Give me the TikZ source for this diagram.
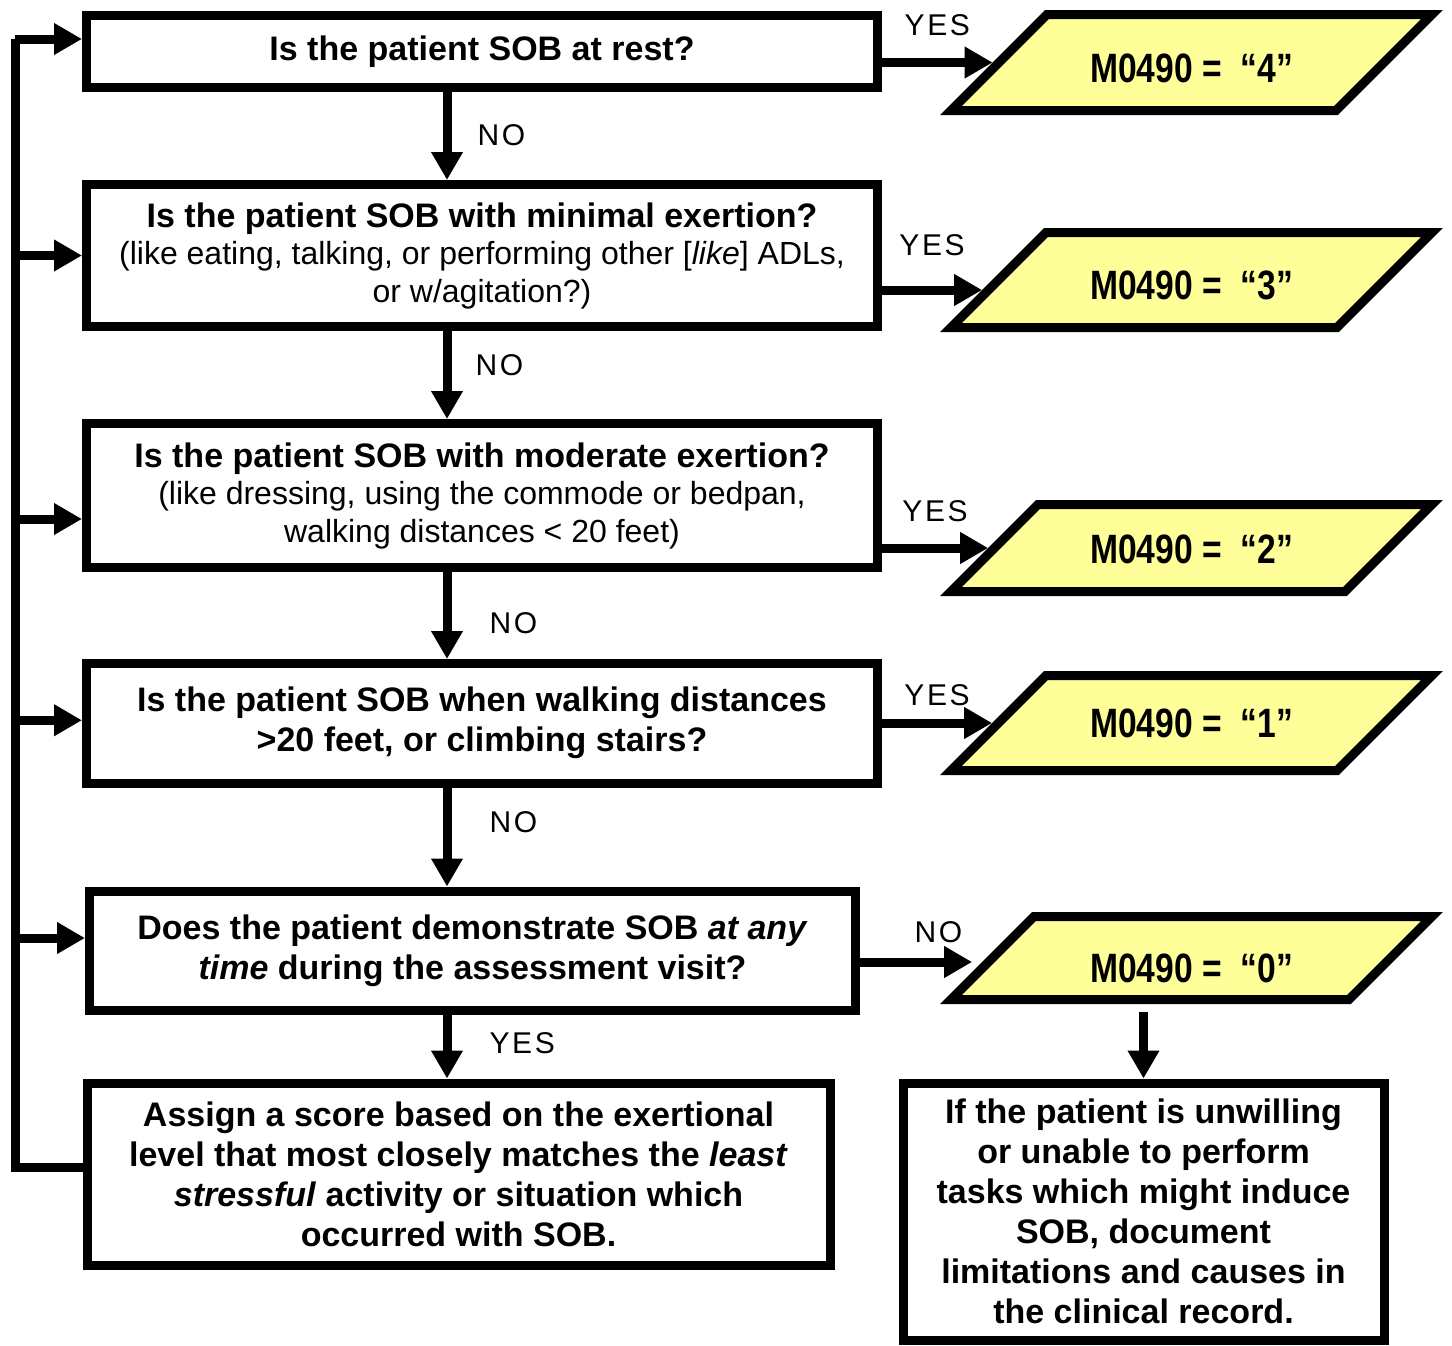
\documentclass[tikz,border=0pt]{standalone}
\usepackage{fontspec}
\setmainfont{Liberation Sans}
\newfontfamily\ansfont[FakeStretch=0.82]{Liberation Sans Bold}
\newfontfamily\lblfont[LetterSpace=9]{Liberation Sans}
\usetikzlibrary{arrows.meta,positioning,shapes.geometric}
\definecolor{answer}{HTML}{FFFF99}
% score text with a strut fixing the node height
\newcommand{\score}[3]{\rule[-#1pt]{0pt}{#2pt}M0490 =~~“#3”}

\begin{document}
\begin{tikzpicture}[x=0.5pt,y=-0.5pt,
  qbox/.style={draw,line width=4.5pt,align=center,inner sep=0pt,font=\fontsize{17}{20}\selectfont\bfseries},
  qmix/.style={qbox,font=\fontsize{16}{18.75}\selectfont},
  ans/.style={trapezium,trapezium left angle=45,trapezium right angle=135,trapezium stretches body,
    inner ysep=0pt,draw,line width=4.5pt,fill=answer,minimum width=240.5pt,font=\ansfont\fontsize{20.5}{24}\selectfont},
  arr/.style={line width=4.5pt,-{Triangle[length=14pt,width=15pt]}},
  wire/.style={line width=4.5pt},
  lbl/.style={inner sep=0pt,font=\lblfont\fontsize{15}{17}\selectfont}]
\useasboundingbox (0,0) rectangle (1452,1345);
% questions
\node[qbox,minimum width=395.5pt,minimum height=36pt] (b1) at (482,51.5) {Is the patient SOB at rest?};
\node[qmix,minimum width=395.5pt,minimum height=71pt] (b2) at (482,255.5)
  {{\fontsize{17}{18.75}\selectfont\bfseries Is the patient SOB with minimal exertion?}\\(like eating, talking, or performing other [\textit{like}] ADLs,\\or w/agitation?)};
\node[qmix,minimum width=395.5pt,minimum height=72pt] (b3) at (482,495.5)
  {{\fontsize{17}{18.75}\selectfont\bfseries Is the patient SOB with moderate exertion?}\\(like dressing, using the commode or bedpan,\\walking distances < 20 feet)};
\node[qbox,minimum width=395.5pt,minimum height=59.75pt] (b4) at (482,723.25) {Is the patient SOB when walking distances\\>20 feet, or climbing stairs?};
\node[qbox,minimum width=383pt,minimum height=59.5pt] (b5) at (472.5,950.5) {Does the patient demonstrate SOB \textit{at any}\\\textit{time} during the assessment visit?};
\node[qbox,minimum width=371.5pt,minimum height=91pt] (b6) at (458.5,1174) {Assign a score based on the exertional\\level that most closely matches the \textit{least}\\\textit{stressful} activity or situation which\\occurred with SOB.};
\node[qbox,minimum width=240.5pt,minimum height=128.5pt] (b7) at (1143.5,1211.5) {If the patient is unwilling\\or unable to perform\\tasks which might induce\\SOB, document\\limitations and causes in\\the clinical record.};
% scores
\node[ans] (p1) at (1191.5,62.5) {\score{14}{48}{4}};
\node[ans] (p2) at (1191.5,280) {\score{14}{47.5}{3}};
\node[ans] (p3) at (1191.5,548) {\score{14}{43.5}{2}};
\node[ans] (p4) at (1191.5,723) {\score{16.5}{47.5}{1}};
\node[ans] (p5) at (1191.5,958) {\score{8.5}{41.5}{0}};
% down the chain
\coordinate (ax) at (447,0);
\foreach \u/\v/\t/\s/\q in {b1/b2/NO/13pt/.49, b2/b3/NO/12pt/.39, b3/b4/NO/19pt/.59, b4/b5/NO/19pt/.35, b5/b6/YES/19pt/.44}
  \draw[arr] (\u.south -| ax) -- node[lbl,right=\s,pos=\q] {\t} (\v.north -| ax);
% answers to the right
\foreach \b/\p/\t/\dx/\dy/\h/\q in {b1/p1/YES/0/0/11pt/.5, b2/p2/YES/-10/10/15pt/.5, b3/p3/YES/0/0/11pt/.5, b4/p4/YES/0/0/6.5pt/.5, b5/p5/NO/-14/4/7.5pt/.7}{
  \coordinate (t\p) at ([shift={(\dx,\dy)}]\p.west);
  \draw[arr] (\b.east |- t\p) -- node[lbl,above=\h,pos=\q] {\t} (t\p);}
\draw[arr,shorten <=4pt] (p5.south -| b7.north) -- (b7.north);
% loop back
\coordinate (fb) at (15,39);
\draw[wire] ([shift={(0,-7)}]b6.west) -| (fb);
\foreach \b/\d in {b1/-12.5, b2/0, b3/23.5, b4/-3, b5/-12.5}{
  \coordinate (in\b) at ([shift={(0,\d)}]\b.west);
  \draw[arr] (fb |- in\b) -- (in\b);}
\end{tikzpicture}
\end{document}
